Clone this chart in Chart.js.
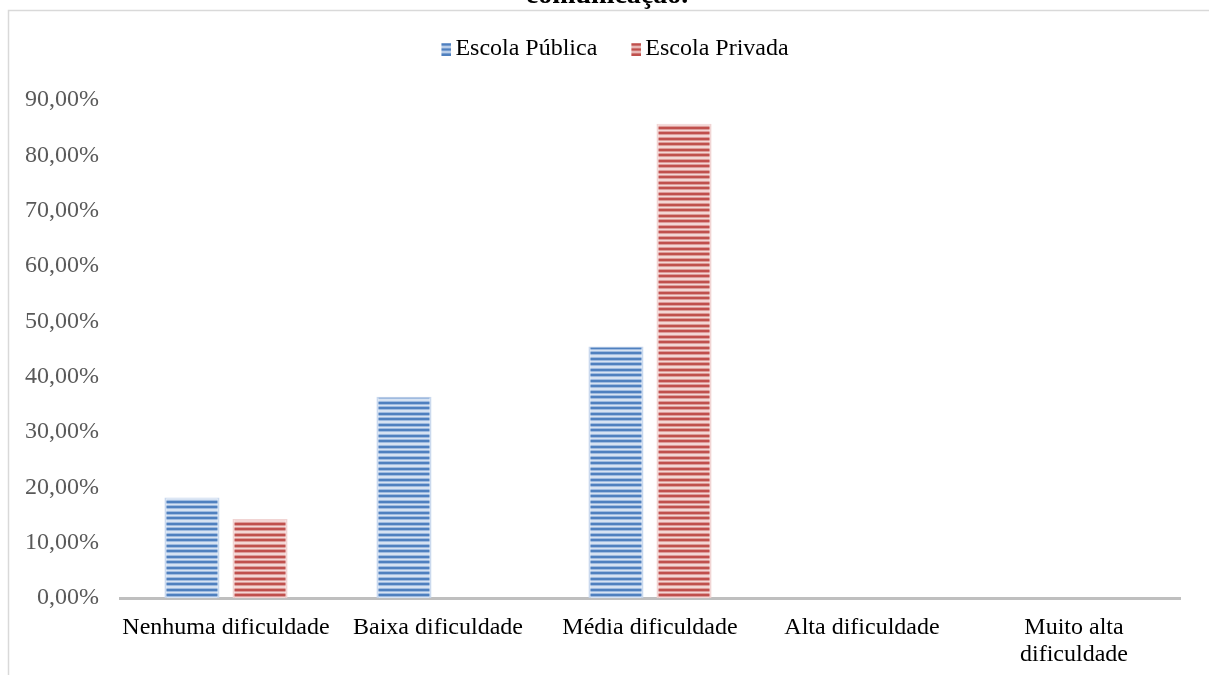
<!DOCTYPE html>
<html lang="pt">
<head>
<meta charset="utf-8">
<title>Dificuldade de comunicação</title>
<script src="https://cdn.jsdelivr.net/npm/chart.js@4.4.1/dist/chart.umd.min.js"></script>
<style>
  html, body { margin: 0; padding: 0; background: #ffffff; }
  #wrap { position: relative; width: 1209px; height: 675px; overflow: hidden; }
  canvas { display: block; }
</style>
</head>
<body>
<div id="wrap"><canvas id="chart" width="1209" height="675"></canvas></div>
<script>
// Categorias e percentuais por tipo de escola
const categories = ['Nenhuma dificuldade', 'Baixa dificuldade', 'Média dificuldade', 'Alta dificuldade', ['Muito alta', 'dificuldade']];
const escolaPublica = [18.18, 36.36, 45.45, 0, 0];
const escolaPrivada = [14.29, 0, 85.71, 0, 0];
const seriesNames = ['Escola Pública', 'Escola Privada'];
const chartTitle = 'comunicação.';

const SERIF = '"Liberation Serif", "Times New Roman", serif';

const BLUE = { dark: '#4f80bf', mid: '#9fbbe0', light: '#d6e2f2' };
const RED = { dark: '#c0504d', mid: '#dd9c9a', light: '#f3d6d5' };
const STRIPE_ROWS = ['dark', 'dark', 'mid', 'light', 'light', 'mid', 'dark', 'dark', 'mid', 'light', 'mid'];
const MARKER_ROWS = ['mid', 'dark', 'dark', 'mid', 'light', 'mid', 'dark', 'dark', 'mid', 'light', 'mid', 'dark', 'dark'];

// Listras horizontais estreitas para o preenchimento das barras
function stripePattern(pal) {
  const c = document.createElement('canvas');
  c.width = 4; c.height = STRIPE_ROWS.length;
  const g = c.getContext('2d');
  STRIPE_ROWS.forEach((k, i) => { g.fillStyle = pal[k]; g.fillRect(0, i, 4, 1); });
  return g.createPattern(c, 'repeat');
}

// Marcador da legenda: quadradinho listrado encostado à direita da imagem,
// para ficar junto ao texto
function legendMarker(pal) {
  const c = document.createElement('canvas');
  c.width = 26; c.height = MARKER_ROWS.length;
  const g = c.getContext('2d');
  MARKER_ROWS.forEach((k, i) => { g.fillStyle = pal[k]; g.fillRect(16, i, 10, 1); });
  return c;
}

const bluePattern = stripePattern(BLUE);
const redPattern = stripePattern(RED);
const markers = [legendMarker(BLUE), legendMarker(RED)];

// Moldura cinza, título da figura e ajustes de posição da legenda
const framePlugin = {
  id: 'frame',
  afterInit(chart) {
    const legend = chart.legend;
    if (legend) {
      const fit = legend.fit.bind(legend);
      legend.fit = function () { fit(); this.height += 29; };
    }
  },
  afterLayout(chart) {
    if (chart.legend) chart.legend.left += 42;
  },
  beforeDraw(chart) {
    const ctx = chart.ctx;
    ctx.save();
    ctx.strokeStyle = '#d9d9d9';
    ctx.lineWidth = 1.5;
    ctx.beginPath();
    ctx.moveTo(8.5, 700);
    ctx.lineTo(8.5, 10.5);
    ctx.lineTo(1300, 10.5);
    ctx.stroke();
    ctx.fillStyle = '#000000';
    ctx.font = 'bold 28px ' + SERIF;
    ctx.textAlign = 'center';
    ctx.textBaseline = 'alphabetic';
    ctx.fillText(chartTitle, 607, 3);
    ctx.restore();
  }
};

new Chart(document.getElementById('chart'), {
  type: 'bar',
  data: {
    labels: categories,
    datasets: [
      {
        label: seriesNames[0],
        data: escolaPublica,
        backgroundColor: bluePattern,
        borderColor: 'rgba(196,213,236,0.9)',
        borderWidth: { left: 2, right: 2, top: 1, bottom: 0 },
        borderSkipped: false
      },
      {
        label: seriesNames[1],
        data: escolaPrivada,
        backgroundColor: redPattern,
        borderColor: 'rgba(240,207,206,0.9)',
        borderWidth: { left: 2, right: 2, top: 1, bottom: 0 },
        borderSkipped: false
      }
    ]
  },
  options: {
    responsive: false,
    devicePixelRatio: 1,
    animation: false,
    categoryPercentage: 0.642,
    barPercentage: 0.81,
    layout: { padding: { top: 11, right: 29, bottom: 0, left: 0 } },
    plugins: {
      title: { display: false },
      tooltip: { enabled: false },
      legend: {
        position: 'top',
        align: 'center',
        labels: {
          usePointStyle: true,
          boxWidth: 10,
          boxHeight: 13,
          padding: 26,
          color: '#000000',
          font: { family: SERIF, size: 24 },
          generateLabels(chart) {
            const items = Chart.defaults.plugins.legend.labels.generateLabels(chart);
            items.forEach((it, i) => { it.pointStyle = markers[i]; });
            return items;
          }
        }
      }
    },
    scales: {
      x: {
        grid: { display: false, drawTicks: false },
        border: { display: true, color: '#bfbfbf', width: 3 },
        ticks: {
          color: '#000000',
          padding: 17,
          maxRotation: 0,
          autoSkip: false,
          font: { family: SERIF, size: 24, lineHeight: 1.09 }
        },
        afterFit(scale) { scale.height = 77; }
      },
      y: {
        min: 0,
        max: 90,
        grid: { display: false, drawTicks: false },
        border: { display: false },
        ticks: {
          stepSize: 10,
          color: '#595959',
          padding: 21,
          font: { family: SERIF, size: 24 },
          callback: v => v.toFixed(2).replace('.', ',') + '%'
        },
        afterFit(scale) { scale.width = 120; }
      }
    }
  },
  plugins: [framePlugin]
});
</script>
</body>
</html>
